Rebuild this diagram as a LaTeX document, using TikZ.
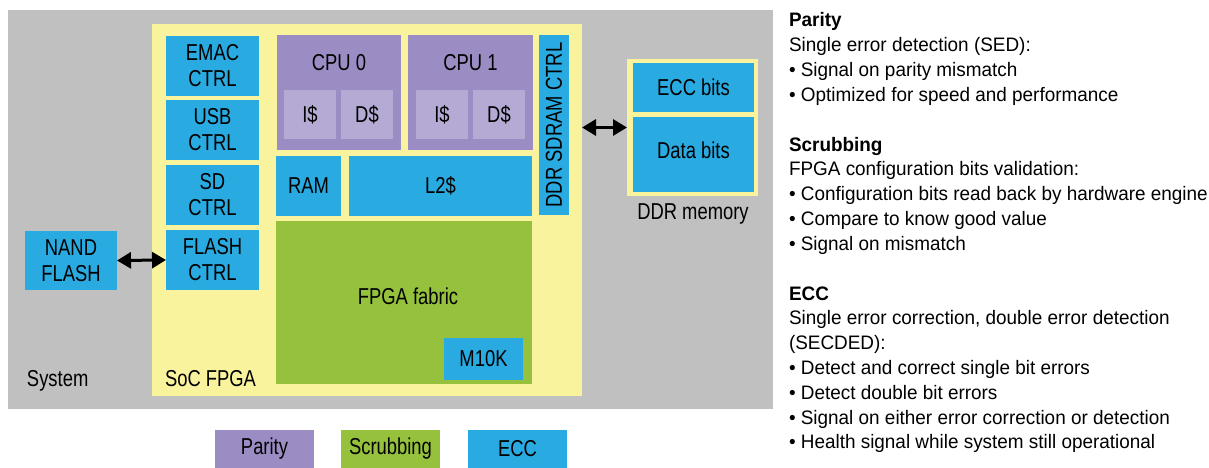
\documentclass[tikz,border=0pt]{standalone}
\usepackage{fontspec}
\setmainfont{Liberation Sans}
\newfontfamily\narrowfont{Liberation Sans}[FakeStretch=0.80]
\newfontfamily\descfont{Liberation Sans}[FakeStretch=0.97]
\usetikzlibrary{arrows.meta}
\definecolor{sysgray}{RGB}{192,192,192}
\definecolor{socyellow}{RGB}{250,243,158}
\definecolor{eccblue}{RGB}{41,170,225}
\definecolor{parpurple}{RGB}{155,141,196}
\definecolor{lightpurple}{RGB}{181,170,212}
\definecolor{scrubgreen}{RGB}{149,193,61}
\tikzset{
  blk/.style={inner sep=0pt, outer sep=0pt, align=center,
    font=\narrowfont\fontsize{23}{26}\selectfont, text=black},
  eccbox/.style={blk, fill=eccblue},
  parbox/.style={blk, fill=parpurple},
  cachebox/.style={blk, fill=lightpurple},
  scrubbox/.style={blk, fill=scrubgreen},
  yelbox/.style={blk, fill=socyellow},
  lbl/.style={inner sep=0pt, outer sep=0pt, font=\narrowfont\fontsize{23}{26}\selectfont, text=black},
  rtext/.style={inner sep=0pt, outer sep=0pt, anchor=base west,
    font=\descfont\fontsize{19.5}{24}\selectfont, text=black},
  rhead/.style={rtext, font=\descfont\bfseries\fontsize{19.5}{24}\selectfont},
  dblarrow/.style={{Triangle[length=14pt,width=16pt]}-{Triangle[length=14pt,width=16pt]},
    line width=3pt, black}
}
\begin{document}
\begin{tikzpicture}[x=1pt,y=-1pt]
\useasboundingbox (0,0) rectangle (1209,468);
% system and SoC
\node[blk, fill=sysgray, minimum width=765, minimum height=399] (sys) at (390.5,209.5) {};
\node[yelbox, minimum width=430, minimum height=372] (soc) at (367,210) {};
% peripheral controllers
\node[eccbox, minimum width=93, minimum height=60] (emac) at (212.5,66) {EMAC\\CTRL};
\node[eccbox, minimum width=93, minimum height=60] (usb) at (212.5,130) {USB\\CTRL};
\node[eccbox, minimum width=93, minimum height=60] (sd) at (212.5,195) {SD\\CTRL};
\node[eccbox, minimum width=93, minimum height=60] (flash) at (212.5,260) {FLASH\\CTRL};
% CPUs
\node[parbox, minimum width=124, minimum height=115] (cpu0) at (339,92.5) {};
\node[lbl] (cpu0t) at (339,63) {CPU 0};
\node[cachebox, minimum width=52, minimum height=49] (i0) at (310,114.5) {I\$};
\node[cachebox, minimum width=52, minimum height=49] (d0) at (367,114.5) {D\$};
\node[parbox, minimum width=125, minimum height=115] (cpu1) at (470.5,92.5) {};
\node[lbl] (cpu1t) at (470.5,63) {CPU 1};
\node[cachebox, minimum width=52, minimum height=49] (i1) at (442,114.5) {I\$};
\node[cachebox, minimum width=52, minimum height=49] (d1) at (499,114.5) {D\$};
% memories
\node[eccbox, minimum width=65, minimum height=60] (ram) at (308.5,186) {RAM};
\node[eccbox, minimum width=183, minimum height=60] (l2) at (440.5,186) {L2\$};
\node[eccbox, minimum width=30, minimum height=180] (ddrc) at (554,125) {\rotatebox{90}{DDR SDRAM CTRL}};
% FPGA fabric
\node[scrubbox, minimum width=256, minimum height=163] (fpga) at (404,302.5) {};
\node[lbl] (fpgat) at (408,296) {FPGA fabric};
\node[eccbox, minimum width=79, minimum height=42] (m10k) at (483.5,359) {M10K};
% NAND flash
\node[eccbox, minimum width=92, minimum height=59] (nand) at (71,260.5) {NAND\\FLASH};
% DDR memory
\node[yelbox, minimum width=131, minimum height=137] (mem) at (692.5,127.5) {};
\node[eccbox, minimum width=121, minimum height=49] (eccbits) at (693.5,87.5) {ECC bits};
\node[eccbox, minimum width=121, minimum height=75] (databits) at (693.5,154.5) {};
\node[lbl] (databitst) at (693.5,150.5) {Data bits};
\node[lbl] (memt) at (693,214) {DDR memory};
% area labels
\node[lbl, anchor=base west] (syst) at (27,386) {System};
\node[lbl, anchor=base west] (soct) at (165,386) {SoC FPGA};
% connectors
\draw[dblarrow] (nand.east) -- (flash.west);
\draw[dblarrow] (soc.east |- mem.west) -- (mem.west);
% legend
\node[parbox, minimum width=99, minimum height=38] (lgpar) at (264.5,449) {Parity};
\node[scrubbox, minimum width=99, minimum height=38] (lgscrub) at (390.5,449) {Scrubbing};
\node[eccbox, minimum width=99, minimum height=38] (lgecc) at (517.5,449) {ECC};
% description text
\node[rhead] (h1) at (789,26.7) {Parity};
\node[rtext] (t1) at (789,51.5) {Single error detection (SED):};
\node[rtext] (t2) at (789,76.3) {• Signal on parity mismatch};
\node[rtext] (t3) at (789,101.1) {• Optimized for speed and performance};
\node[rhead] (h2) at (789,151) {Scrubbing};
\node[rtext] (t4) at (789,175.8) {FPGA configuration bits validation:};
\node[rtext] (t5) at (789,200.6) {• Configuration bits read back by hardware engine};
\node[rtext] (t6) at (789,225.4) {• Compare to know good value};
\node[rtext] (t7) at (789,250.2) {• Signal on mismatch};
\node[rhead] (h3) at (789,300) {ECC};
\node[rtext] (t8) at (789,324.8) {Single error correction, double error detection};
\node[rtext] (t9) at (789,349.6) {(SECDED):};
\node[rtext] (t10) at (789,374.4) {• Detect and correct single bit errors};
\node[rtext] (t11) at (789,399.2) {• Detect double bit errors};
\node[rtext] (t12) at (789,424) {• Signal on either error correction or detection};
\node[rtext] (t13) at (789,448.8) {• Health signal while system still operational};
\end{tikzpicture}
\end{document}
